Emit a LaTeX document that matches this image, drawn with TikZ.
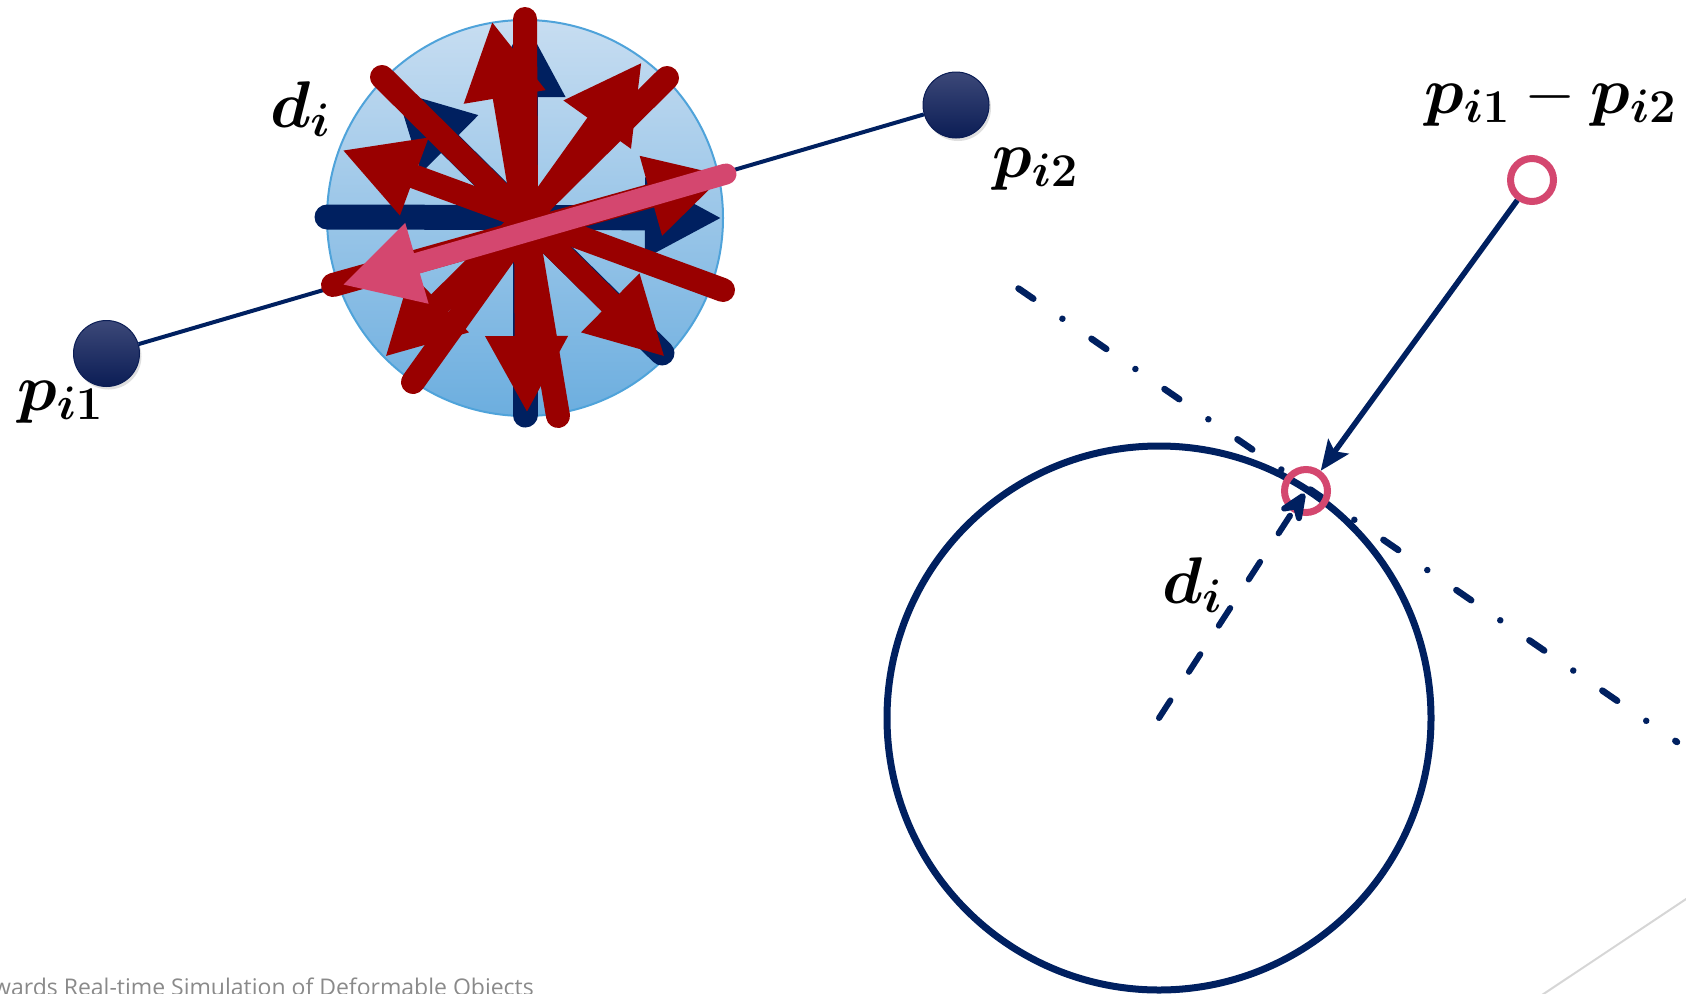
\RequirePackage{fix-cm}
\documentclass[tikz,border=0pt]{standalone}
\usepackage{bm}
\usepackage{fontspec}
\newfontfamily\footerfont{Open Sans}
\usetikzlibrary{arrows.meta,shadows}
\definecolor{navy}{HTML}{002060}
\definecolor{dred}{HTML}{990000}
\definecolor{pinkc}{HTML}{D4476F}
\definecolor{sphtop}{HTML}{C7DDF1}
\definecolor{sphbot}{HTML}{6CAEDF}
\definecolor{sphline}{HTML}{4FA3DA}
\definecolor{dottop}{HTML}{3C4878}
\definecolor{dotbot}{HTML}{0B1D55}
\definecolor{footgray}{HTML}{8A8A8A}
\definecolor{edgegray}{HTML}{D6D6D6}
\DeclareMathSizes{66}{66}{47}{34}
\tikzset{
  dotnode/.style={circle, inner sep=0pt, minimum size=66pt, top color=dottop, bottom color=dotbot, draw=dotbot, line width=1pt,
    drop shadow={opacity=0.25, shadow xshift=2pt, shadow yshift=-3pt}},
  ring/.style={circle, inner sep=0pt, minimum size=43pt, draw=pinkc, line width=7pt},
  mathlabel/.style={inner sep=0pt, anchor=base west, font=\fontsize{66}{72}\selectfont},
  redarr/.style={draw=dred, line width=24pt, line cap=round, -{Triangle[length=77pt,width=77pt]}},
  navarr/.style={draw=navy, line width=25pt, line cap=round, -{Triangle[length=77pt,width=75pt]}},
  pinkarr/.style={draw=pinkc, line width=21pt, line cap=round, -{Triangle[length=78pt,width=78pt]}},
  thinline/.style={draw=navy, line width=4pt},
  dashdot/.style={draw=navy, line width=6.5pt, line cap=round, dash pattern=on 18pt off 35.3pt on 0.01pt off 35.3pt},
  radiusarr/.style={draw=navy, line width=6pt, line cap=round, dash pattern=on 21pt off 34pt, -{Stealth[length=40pt,width=34pt,inset=16pt,round]}, shorten >=3pt},
  solidarr/.style={draw=navy, line width=5.5pt, -{Stealth[length=30pt,width=25pt,inset=6pt]}},
}
\begin{document}
\begin{tikzpicture}[x=1pt,y=-1pt]
\useasboundingbox (0,0) rectangle (1686,993);
\clip (0,0) rectangle (1686,993);

% left part: segment and sphere
\node[dotnode] (p1) at (106.5,353.5) {};
\node[dotnode] (p2) at (956,105) {};
\draw[thinline] (p1) -- (p2);
\node[circle, inner sep=0pt, minimum size=396pt, top color=sphtop, bottom color=sphbot, draw=sphline, line width=2pt] (sph) at (525,218) {};

% navy arrows
\draw[navarr] (327,217) -- (722,218);
\draw[navarr] (525,415) -- (525,20);
\draw[navarr] (662,353) -- (395,90);
% red arrows
\draw[redarr] (525,19) -- (527,413);
\draw[redarr] (558,416) -- (492,21);
\draw[redarr] (382,77) -- (665,357);
\draw[redarr] (667,78) -- (385,357);
\draw[redarr] (413,382) -- (642,62);
\draw[redarr] (723,290) -- (342,150);
\draw[redarr] (333,285) -- (725,175);
% pink arrow
\draw[pinkarr] (726,174) -- (342,285);

% labels left
\node[mathlabel] (ldi) at (270,127) {$\bm{d}_{\bm{i}}$};
\node[mathlabel] (lp1) at (17,410) {$\bm{p}_{\bm{i}\bm{1}}$};
\node[mathlabel] (lp2) at (992,177) {$\bm{p}_{\bm{i}\bm{2}}$};

% right part
\node[circle, inner sep=0pt, minimum size=544pt, draw=navy, line width=7pt] (bc) at (1159,718) {};
\coordinate (dd1) at (1018.5,288.5);
\coordinate (dd2) at (1677,742);
\draw[dashdot] (dd1) -- (dd2);
\node[ring] (q) at (1532,180) {};
\node[ring] (r) at (1306,491) {};
\draw[solidarr] (q) -- (r);
\draw[radiusarr] (bc.center) -- (r.center);
\node[mathlabel] (rdi) at (1162,603) {$\bm{d}_{\bm{i}}$};
\node[mathlabel] (ldiff) at (1424,113) {$\bm{p}_{\bm{i}\bm{1}}-\bm{p}_{\bm{i}\bm{2}}$};

% footer
\coordinate (g1) at (1530,1003);
\coordinate (g2) at (1700,889.7);
\draw[edgegray, line width=2pt] (g1) -- (g2);
\node[anchor=base east, inner sep=0pt, text=footgray, font=\footerfont\fontsize{23}{27}\selectfont] (foot) at (534,995) {Towards Real-time Simulation of Deformable Objects};
\end{tikzpicture}
\end{document}
